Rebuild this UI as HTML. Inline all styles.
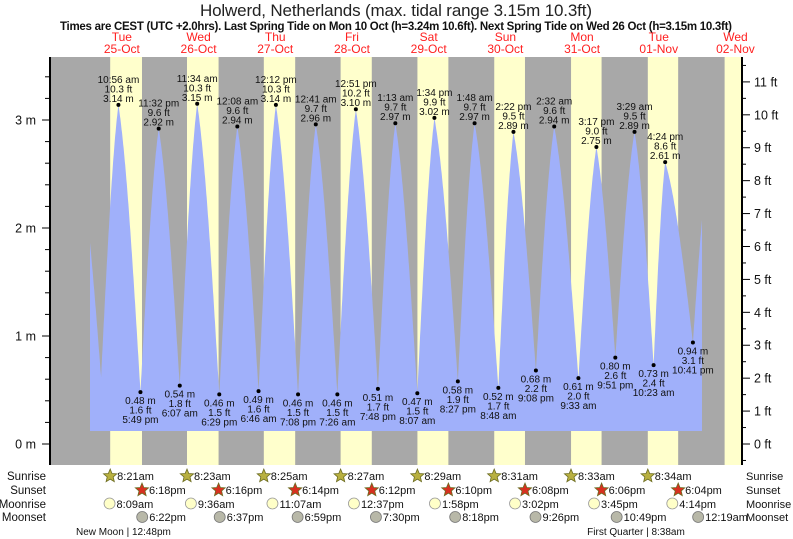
<!DOCTYPE html>
<html><head><meta charset="utf-8"><style>
html,body{margin:0;padding:0;background:#fff}
svg{display:block;font-family:"Liberation Sans",Arial,sans-serif}
</style></head><body>
<svg id="chart" width="793" height="539" viewBox="0 0 793 539">
<text x="396" y="16" text-anchor="middle" font-size="17" fill="#222" textLength="392">Holwerd, Netherlands (max. tidal range 3.15m 10.3ft)</text>
<text x="396" y="30" text-anchor="middle" font-size="11.5" font-weight="bold" fill="#111" textLength="672">Times are CEST (UTC +2.0hrs). Last Spring Tide on Mon 10 Oct (h=3.24m 10.6ft). Next Spring Tide on Wed 26 Oct (h=3.15m 10.3ft)</text>
<g id="bg"></g><g id="tide"></g><g id="axes"></g><g id="labels"></g><g id="astro"></g>
</svg>
<script>
// ---- data ----
const dayNames = ["Tue","Wed","Thu","Fri","Sat","Sun","Mon","Tue","Wed"];
const dayDates = ["25-Oct","26-Oct","27-Oct","28-Oct","29-Oct","30-Oct","31-Oct","01-Nov","02-Nov"];
// tide extremes: hours since 25-Oct 00:00, height m
const tideTimes = [-1.5,5.5,10.93,17.82,23.53,30.12,35.57,42.48,48.13,54.77,60.2,67.13,72.68,79.43,85.22,92.12,97.57,104.45,109.8,117.13,122.37,129.8,134.53,141.55,147.28,154.85,160.48,166.4,172.41,178.38,182.0,190.68,195.6];
const tideHeights = [2.7,0.62,3.14,0.48,2.92,0.54,3.15,0.46,2.94,0.49,3.14,0.46,2.96,0.46,3.10,0.51,2.97,0.47,3.02,0.58,2.97,0.52,2.89,0.68,2.94,0.61,2.75,0.80,2.89,0.73,2.61,0.94,2.6];
const tideLabelIdx = [2,3,4,5,6,7,8,9,10,11,12,13,14,15,16,17,18,19,20,21,22,23,24,25,26,27,28,29,30,31];
const tideClock = ["10:56 am","5:49 pm","11:32 pm","6:07 am","11:34 am","6:29 pm","12:08 am","6:46 am","12:12 pm","7:08 pm","12:41 am","7:26 am","12:51 pm","7:48 pm","1:13 am","8:07 am","1:34 pm","8:27 pm","1:48 am","8:48 am","2:22 pm","9:08 pm","2:32 am","9:33 am","3:17 pm","9:51 pm","3:29 am","10:23 am","4:24 pm","10:41 pm"];
const tideFeet = ["10.3","1.6","9.6","1.8","10.3","1.5","9.6","1.6","10.3","1.5","9.7","1.5","10.2","1.7","9.7","1.5","9.9","1.9","9.7","1.7","9.5","2.2","9.6","2.0","9.0","2.6","9.5","2.4","8.6","3.1"];
const sunrise = ["8:21am","8:23am","8:25am","8:27am","8:29am","8:31am","8:33am","8:34am","8:36am"];
const sunset = ["6:18pm","6:16pm","6:14pm","6:12pm","6:10pm","6:08pm","6:06pm","6:04pm"];
const moonriseT = [8.15,33.6,59.12,84.62,109.97,135.03,159.75,184.23];
const moonriseL = ["8:09am","9:36am","11:07am","12:37pm","1:58pm","3:02pm","3:45pm","4:14pm"];
const moonsetT = [18.37,42.62,67.0,91.5,116.3,141.43,166.82,192.32];
const moonsetL = ["6:22pm","6:37pm","6:59pm","7:30pm","8:18pm","9:26pm","10:49pm","12:19am"];
const mTicks = [0,1,2,3];
const ftTicks = [0,1,2,3,4,5,6,7,8,9,10,11];

// ---- scales ----
const X0=83.5, PXH=3.196, PL=50, PR=742, PT=57, PB=465;
const xT = t => X0 + t*PXH;
const yM = m => 444 - 108*m;
const NS="http://www.w3.org/2000/svg";
function mk(tag, parent, attrs, txt){const e=document.createElementNS(NS,tag);for(const k in attrs)e.setAttribute(k,attrs[k]);if(txt!==undefined)e.textContent=txt;parent.appendChild(e);return e;}
function hm(s){const m=s.match(/(\d+):(\d+)(am|pm)/);let h=+m[1]%12;if(m[3]=="pm")h+=12;return h+ +m[2]/60;}

const bg=document.getElementById('bg');
let r=mk('rect',bg,{x:PL,y:PT,width:PR-PL,height:PB-PT,fill:'#a8a8a8'});


for(let d=0;d<9;d++){
  const a=Math.max(PL,xT(d*24+hm(sunrise[d])));
  const b=Math.min(PR,xT(d*24+(d<8?hm(sunset[d]):18.0)));
  const e=mk('rect',bg,{x:a,y:PT,width:b-a,height:PB-PT,fill:'#ffffcc'});
  
  
  const c=xT(d*24+12);
  const t1=mk('text',bg,{x:c,y:41,'text-anchor':'middle','font-size':12,fill:'#ff2020'},dayNames[d]);
  
  
  const t2=mk('text',bg,{x:c,y:53,'text-anchor':'middle','font-size':12,fill:'#ff2020'},dayDates[d]);
  
  
}

// tide curve: sharp at lows, moderately rounded at highs
function hAt(t){
  for(let i=0;i<tideTimes.length-1;i++){
    if(t>=tideTimes[i]&&t<=tideTimes[i+1]){
      const s=(t-tideTimes[i])/(tideTimes[i+1]-tideTimes[i]);
      const h0=tideHeights[i], h1=tideHeights[i+1];
      const lo=Math.min(h0,h1), hi=Math.max(h0,h1);
      const u = h0<h1 ? s : 1-s;
      const g = 0.5*u + 0.5*Math.sin(Math.PI*u/2);
      return lo+(hi-lo)*g;
    }
  }
  return tideHeights[tideHeights.length-1];
}
const tS=(90-X0)/PXH, tE=(702-X0)/PXH;
let pts=[[90,431]];
let ts=[];for(let t=tS;t<=tE;t+=0.1)ts.push(t);
tideTimes.forEach(t=>{if(t>tS&&t<tE)ts.push(t);});ts.push(tE);ts.sort((a,b)=>a-b);
ts.forEach(t=>pts.push([xT(t),yM(hAt(t))]));
pts.push([702,431]);
const tideG=document.getElementById('tide');
const poly=mk('polygon',tideG,{points:pts.map(p=>p[0].toFixed(1)+','+p[1].toFixed(1)).join(' '),fill:'#a0b0fa'});



const lab=document.getElementById('labels');
tideLabelIdx.forEach((idx,k)=>{
  const x=xT(tideTimes[idx]), y=yM(tideHeights[idx]);
  const dot=mk('circle',lab,{cx:x,cy:y,r:2,fill:'#000'});
  
  
  const high=tideHeights[idx]>1.5;
  const lines = high ? [tideClock[k],tideFeet[k]+' ft',tideHeights[idx].toFixed(2)+' m'] : [tideHeights[idx].toFixed(2)+' m',tideFeet[k]+' ft',tideClock[k]];
  const offs = high ? [-22,-12.5,-3] : [12,21.5,31];
  lines.forEach((s,j)=>{
    const t=mk('text',lab,{x:x,y:y+offs[j],'text-anchor':'middle','font-size':10,fill:'#111'},s);
    
    
  });
});

// axes
const ax=document.getElementById('axes');
let l=mk('line',ax,{x1:PL,y1:PT,x2:PL,y2:PB,stroke:'#000','stroke-width':2});


l=mk('line',ax,{x1:PR,y1:PT,x2:PR,y2:PB,stroke:'#000','stroke-width':2});


for(let m=-0.2;m<=3.6;m+=0.2){
  const y=yM(m); if(y<PT||y>PB)continue;
  const major=Math.abs(m-Math.round(m))<0.01;
  mk('line',ax,{x1:major?42:45,y1:y,x2:PL,y2:y,stroke:'#000','stroke-width':1});
}
mTicks.forEach(m=>{
  const t=mk('text',ax,{x:36,y:yM(m)+4.5,'text-anchor':'end','font-size':12.5,fill:'#111'},m+' m');
  
  
});
for(let f=-0.5;f<=12;f+=0.5){
  const y=yM(f*0.3048); if(y<PT||y>PB)continue;
  const major=f%1===0;
  mk('line',ax,{x1:PR,y1:y,x2:major?750:746,y2:y,stroke:'#000','stroke-width':1});
}
ftTicks.forEach(f=>{
  const t=mk('text',ax,{x:754,y:yM(f*0.3048)+4.5,'font-size':12.5,fill:'#111'},f+' ft');
  
  
});

// astro rows
const as=document.getElementById('astro');
const rows=[["Sunrise",480],["Sunset",494],["Moonrise",508],["Moonset",521]];
rows.forEach(([n,y])=>{
  let t=mk('text',as,{x:46,y:y,'text-anchor':'end','font-size':11.5,fill:'#111'},n);
  
  
  t=mk('text',as,{x:746,y:y,'font-size':11,fill:'#111'},n);
  
  
});
function star(cx,cy,R,fill){let p=[];for(let i=0;i<10;i++){const a=-Math.PI/2+i*Math.PI/5;const rr=i%2?R*0.45:R;p.push((cx+rr*Math.cos(a)).toFixed(1)+','+(cy+rr*Math.sin(a)).toFixed(1));}return mk('polygon',as,{points:p.join(' '),fill:fill,stroke:'#6b6b20','stroke-width':0.8});}
for(let d=0;d<8;d++){
  let x=xT(d*24+hm(sunrise[d]));
  let s=star(x,476,7,'#b8b040');
  
  
  let t=mk('text',as,{x:x+7,y:480,'font-size':11,fill:'#111'},sunrise[d]);
  
  
  x=xT(d*24+hm(sunset[d]));
  s=star(x,490,7,'#d83020');
  
  
  t=mk('text',as,{x:x+7,y:494,'font-size':11,fill:'#111'},sunset[d]);
  
  
  x=xT(moonriseT[d]);
  let c=mk('circle',as,{cx:x,cy:503.5,r:5.5,fill:'#ffffc8',stroke:'#999','stroke-width':0.8});
  
  
  t=mk('text',as,{x:x+7,y:508,'font-size':11,fill:'#111'},moonriseL[d]);
  
  
  x=xT(moonsetT[d]);
  c=mk('circle',as,{cx:x,cy:517,r:5.5,fill:'#b8b8a8',stroke:'#777','stroke-width':0.8});
  
  
  t=mk('text',as,{x:x+7,y:521,'font-size':11,fill:'#111'},moonsetL[d]);
  
  
}
let ph=mk('text',as,{x:76,y:535,'font-size':10,fill:'#111'},'New Moon | 12:48pm');


ph=mk('text',as,{x:636,y:535,'text-anchor':'middle','font-size':10,fill:'#111'},'First Quarter | 8:38am');


</script>
</body></html>
